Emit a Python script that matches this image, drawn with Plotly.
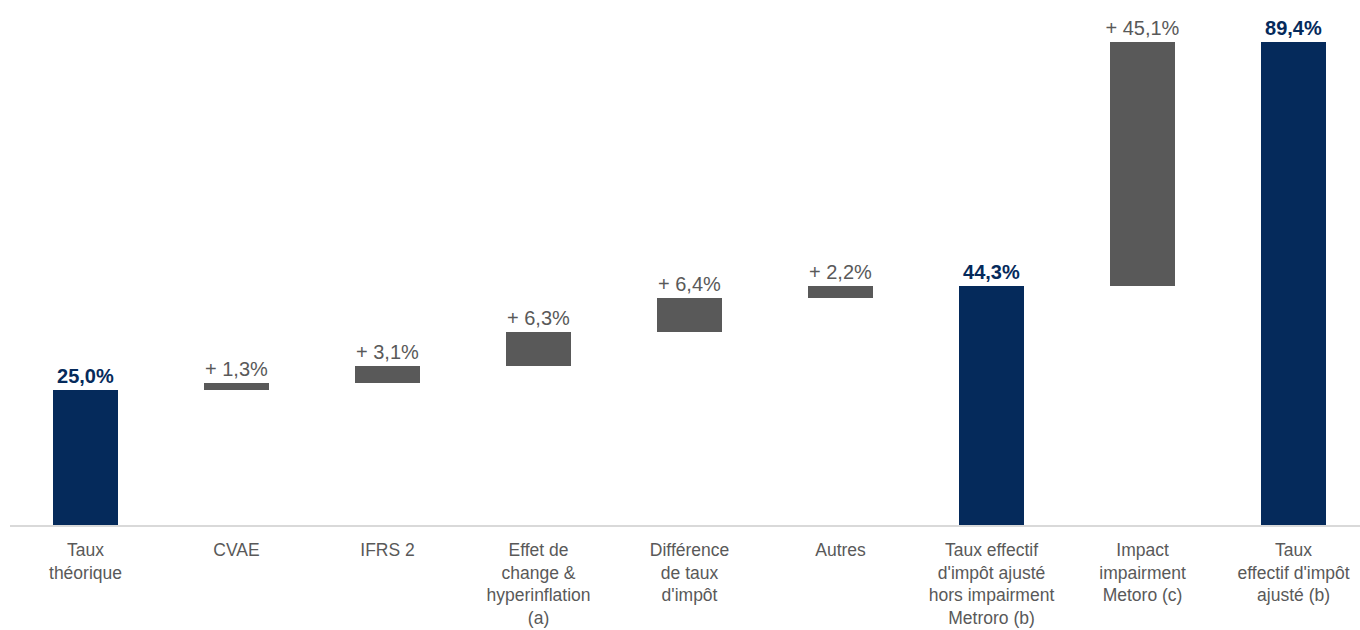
import plotly.graph_objects as go

categories = [
    "Taux<br>théorique",
    "CVAE",
    "IFRS 2",
    "Effet de<br>change &amp;<br>hyperinflation<br>(a)",
    "Différence<br>de taux<br>d'impôt",
    "Autres",
    "Taux effectif<br>d'impôt ajusté<br>hors impairment<br>Metroro (b)",
    "Impact<br>impairment<br>Metoro (c)",
    "Taux<br>effectif d'impôt<br>ajusté (b)",
]
values = [25.0, 1.3, 3.1, 6.3, 6.4, 2.2, 44.3, 45.1, 89.4]
measures = ["absolute", "relative", "relative", "relative", "relative",
            "relative", "total", "relative", "total"]

NAVY = "#052A5B"
GREY = "#595959"

bases, heights, texts, colors, tcolors = [], [], [], [], []
running = 0.0
for v, m in zip(values, measures):
    if m == "relative":
        bases.append(running)
        heights.append(v)
        running += v
        texts.append("+ " + f"{v:.1f}".replace(".", ",") + "%")
        colors.append(GREY)
        tcolors.append(GREY)
    else:
        bases.append(0)
        heights.append(v)
        running = v
        texts.append("<b>" + f"{v:.1f}".replace(".", ",") + "%</b>")
        colors.append(NAVY)
        tcolors.append(NAVY)

x = list(range(len(categories)))
fig = go.Figure(go.Bar(
    x=x, y=heights, base=bases,
    marker=dict(color=colors, line=dict(width=0)),
    width=0.435,
    text=texts, textposition="outside", cliponaxis=False,
    constraintext="none",
    textfont=dict(family="Liberation Sans, Arial", size=20, color=tcolors),
    hoverinfo="skip",
))

fig.update_layout(
    width=1360, height=630,
    margin=dict(l=10, r=0, t=0, b=105),
    plot_bgcolor="white", paper_bgcolor="white",
    showlegend=False,
    font=dict(family="Liberation Sans, Arial", color=GREY),
    bargap=0,
)
fig.update_xaxes(
    tickmode="array", tickvals=x, ticktext=categories,
    range=[-0.5, 8.44],
    showline=True, linecolor="#D9D9D9", linewidth=1.5,
    showgrid=False, zeroline=False, ticks="",
    tickfont=dict(size=17.5, color=GREY),
    ticklabelstandoff=8,
    tickangle=0, automargin=False,
)
fig.update_yaxes(
    range=[0, 97.2], visible=False, showgrid=False, zeroline=False,
    automargin=False,
)
fig.write_html(
    "out.html",
    config={"displayModeBar": False},
    post_script="document.body.style.margin='0';document.body.style.overflow='hidden';",
)
